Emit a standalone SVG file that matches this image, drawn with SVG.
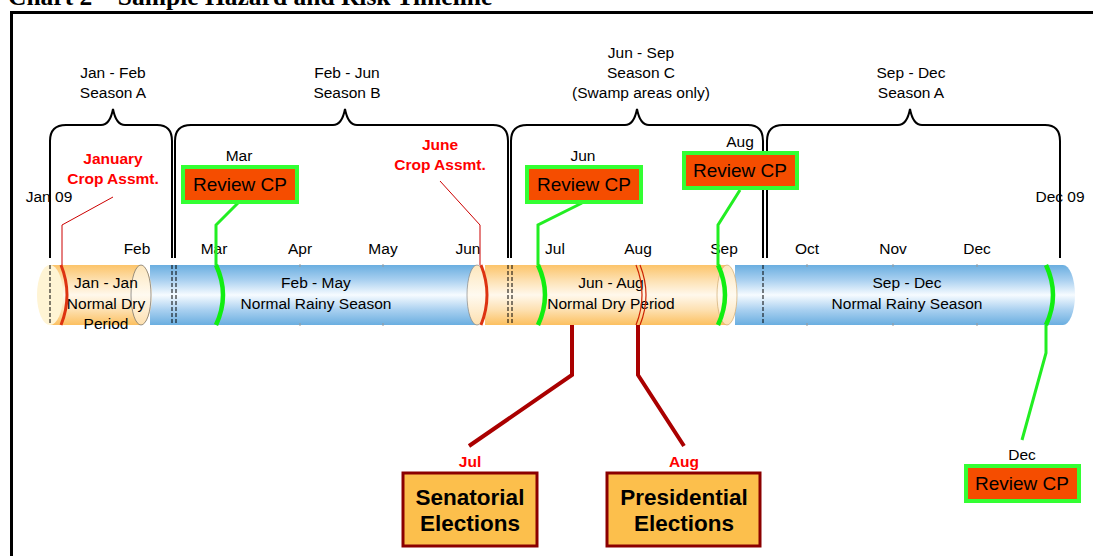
<svg xmlns="http://www.w3.org/2000/svg" width="1093" height="556" viewBox="0 0 1093 556">
<style>
.t{font-family:"Liberation Sans",Arial,sans-serif;font-size:15.5px;fill:#000;text-anchor:middle}
.rc{font-family:"Liberation Sans",Arial,sans-serif;font-size:15.5px;font-weight:bold;fill:#ff0000;text-anchor:middle}
.cp{font-family:"Liberation Sans",Arial,sans-serif;font-size:19px;fill:#000;text-anchor:middle}
.el{font-family:"Liberation Sans",Arial,sans-serif;font-size:22.5px;font-weight:bold;fill:#000;text-anchor:middle}
.brace{fill:none;stroke:#000;stroke-width:2}
.dash{stroke:#000;stroke-width:1;stroke-dasharray:4 2}
.g{fill:none;stroke:#22ee22;stroke-width:3}
.garc{fill:none;stroke:#11ee11;stroke-width:4.5}
.r{fill:none;stroke:#aa0000;stroke-width:4}
.rthin{fill:none;stroke:#cc0000;stroke-width:1}
.rarc{fill:none;stroke:#dd3311;stroke-width:3}
.cpbox{fill:#f54d00;stroke:#33ff33;stroke-width:4}
.elbox{fill:#fcbf4c;stroke:#8b0000;stroke-width:3}
.tick{stroke:#999;stroke-width:1}
</style>
<defs>
<linearGradient id="blue" x1="0" y1="0" x2="0" y2="1">
<stop offset="0" stop-color="#6aaee0"/>
<stop offset="0.25" stop-color="#a9d0f0"/>
<stop offset="0.5" stop-color="#f6fbff"/>
<stop offset="0.75" stop-color="#a9d0f0"/>
<stop offset="1" stop-color="#6aaee0"/>
</linearGradient>
<linearGradient id="orange" x1="0" y1="0" x2="0" y2="1">
<stop offset="0" stop-color="#fcc46a"/>
<stop offset="0.25" stop-color="#fde0b0"/>
<stop offset="0.5" stop-color="#fff8ec"/>
<stop offset="0.75" stop-color="#fde0b0"/>
<stop offset="1" stop-color="#fcc060"/>
</linearGradient>
<linearGradient id="face" x1="0" y1="0" x2="0" y2="1">
<stop offset="0" stop-color="#fde6bc"/>
<stop offset="0.5" stop-color="#fffaf0"/>
<stop offset="1" stop-color="#fde0b0"/>
</linearGradient>
</defs>

<text x="8" y="5" font-family="Liberation Serif,Times New Roman,serif" font-size="25.5" font-weight="bold">Chart 2 – Sample Hazard and Risk Timeline</text>
<rect x="11.5" y="12.5" width="1100" height="560" fill="none" stroke="#000" stroke-width="3"/>

<g id="seasons">
<path class="brace" d="M50,258 V141 Q50,125 66,125 H101 Q110,125 113,109 Q116,125 125,125 H157 Q172,125 172,141 V258"/>
<path class="brace" d="M175,258 V141 Q175,125 191,125 H333 Q342,125 345,109 Q348,125 357,125 H493 Q508,125 508,141 V258" stroke-width="3"/>
<path class="brace" d="M511,258 V141 Q511,125 527,125 H625 Q634,125 637,109 Q640,125 649,125 H748 Q763,125 763,141 V258"/>
<path class="brace" d="M767,258 V141 Q767,125 783,125 H898 Q907,125 910,109 Q913,125 922,125 H1045 Q1060,125 1060,141 V258"/>
<text class="t" x="113" y="78">Jan - Feb</text><text class="t" x="113" y="98">Season A</text>
<text class="t" x="347" y="78">Feb - Jun</text><text class="t" x="347" y="98">Season B</text>
<text class="t" x="641" y="58">Jun - Sep</text><text class="t" x="641" y="78">Season C</text><text class="t" x="641" y="98">(Swamp areas only)</text>
<text class="t" x="911" y="78">Sep - Dec</text><text class="t" x="911" y="98">Season A</text>
</g>

<g id="timeline">
<path d="M735,265 H1063 A12,30 0 0 1 1063,325 H735 Z" fill="url(#blue)"/>
<path d="M485,265 H725 A12,30 0 0 1 725,325 H485 Z" fill="url(#orange)"/>
<ellipse cx="727" cy="295" rx="10" ry="30" fill="url(#face)" stroke="#c9a060" stroke-width="0.6"/>
<path d="M150,265 H475 A12,30 0 0 1 475,325 H150 Z" fill="url(#blue)"/>
<ellipse cx="477" cy="295" rx="10" ry="30" fill="url(#face)" stroke="#777" stroke-width="0.6"/>
<path d="M50,265 H140 A12,30 0 0 1 140,325 H50 Z" fill="url(#orange)"/>
<ellipse cx="141" cy="295" rx="10" ry="30" fill="url(#face)" stroke="#555" stroke-width="0.6"/>
<ellipse cx="50" cy="295" rx="13" ry="30" fill="#fff4d4"/>
<line class="dash" x1="50" y1="265" x2="50" y2="325"/>
<line class="dash" x1="172" y1="265" x2="172" y2="325"/>
<line class="dash" x1="176" y1="265" x2="176" y2="325"/>
<line class="dash" x1="508" y1="265" x2="508" y2="325"/>
<line class="dash" x1="512" y1="265" x2="512" y2="325"/>
<line class="dash" x1="763" y1="265" x2="763" y2="325"/>
<g class="tick">
<line x1="300" y1="264" x2="300" y2="267"/><line x1="383" y1="264" x2="383" y2="267"/>
<line x1="807" y1="264" x2="807" y2="267"/><line x1="893" y1="264" x2="893" y2="267"/><line x1="977" y1="264" x2="977" y2="267"/>
<line x1="300" y1="323" x2="300" y2="326"/><line x1="383" y1="323" x2="383" y2="326"/>
<line x1="807" y1="323" x2="807" y2="326"/><line x1="893" y1="323" x2="893" y2="326"/><line x1="977" y1="323" x2="977" y2="326"/>
</g>
<text class="t" x="106" y="288">Jan - Jan</text><text class="t" x="106" y="309">Normal Dry</text><text class="t" x="106" y="329">Period</text>
<text class="t" x="316" y="288">Feb - May</text><text class="t" x="316" y="309">Normal Rainy Season</text>
<text class="t" x="611" y="288">Jun - Aug</text><text class="t" x="611" y="309">Normal Dry Period</text>
<text class="t" x="907" y="288">Sep - Dec</text><text class="t" x="907" y="309">Normal Rainy Season</text>
</g>

<g id="months">
<text class="t" x="49" y="202">Jan 09</text>
<text class="t" x="1060" y="202">Dec 09</text>
<text class="t" x="137" y="254">Feb</text><text class="t" x="214" y="254">Mar</text><text class="t" x="300" y="254">Apr</text>
<text class="t" x="383" y="254">May</text><text class="t" x="468" y="254">Jun</text><text class="t" x="555" y="254">Jul</text>
<text class="t" x="638" y="254">Aug</text><text class="t" x="724" y="254">Sep</text><text class="t" x="807" y="254">Oct</text>
<text class="t" x="893" y="254">Nov</text><text class="t" x="977" y="254">Dec</text>
</g>

<g id="connectors">
<path class="rthin" d="M113,197 L62,225 V265"/>
<path class="rthin" d="M440,181 L480,225 V265"/>
<path class="g" d="M238,203 L216,225 V265"/>
<path class="g" d="M582,203 L538,225 V265"/>
<path class="g" d="M740,190 L718,225 V265"/>
<path class="g" d="M1022,440 L1046,353 V325"/>
<path class="r" d="M572,325 V375 L469,446"/>
<path class="r" d="M638,325 V375 L684,446"/>
<path class="rarc" d="M61,265 Q73,295 61,325"/>
<path class="rarc" d="M481,265 Q493,295 481,325"/>
<path d="M636,265 Q648,295 636,325 M640,265 Q652,295 640,325" fill="none" stroke="#cc2200" stroke-width="1.2"/>
<path class="garc" d="M216,265 Q230,295 216,325"/>
<path class="garc" d="M538,265 Q552,295 538,325"/>
<path class="garc" d="M718,265 Q732,295 718,325"/>
<path class="garc" d="M1046,265 Q1060,295 1046,325"/>
</g>

<g id="crop-jan"><text class="rc" x="113" y="164">January</text><text class="rc" x="113" y="184">Crop Assmt.</text></g>
<g id="crop-jun"><text class="rc" x="440" y="150">June</text><text class="rc" x="440" y="170">Crop Assmt.</text></g>

<g id="cp-mar"><text class="t" x="239" y="161">Mar</text><rect class="cpbox" x="183" y="167" width="114" height="35"/><text class="cp" x="240" y="191">Review CP</text></g>
<g id="cp-jun"><text class="t" x="583" y="161">Jun</text><rect class="cpbox" x="527" y="167" width="114" height="35"/><text class="cp" x="584" y="191">Review CP</text></g>
<g id="cp-aug"><text class="t" x="740" y="147">Aug</text><rect class="cpbox" x="684" y="153" width="113" height="35"/><text class="cp" x="740" y="177">Review CP</text></g>
<g id="cp-dec"><text class="t" x="1022" y="460">Dec</text><rect class="cpbox" x="966" y="466" width="113" height="35"/><text class="cp" x="1022" y="490">Review CP</text></g>

<g id="senatorial"><text class="rc" x="470" y="467">Jul</text><rect class="elbox" x="403" y="473" width="134" height="73"/><text class="el" x="470" y="505">Senatorial</text><text class="el" x="470" y="531">Elections</text></g>
<g id="presidential"><text class="rc" x="684" y="467">Aug</text><rect class="elbox" x="607" y="473" width="153" height="73"/><text class="el" x="684" y="505">Presidential</text><text class="el" x="684" y="531">Elections</text></g>
</svg>
